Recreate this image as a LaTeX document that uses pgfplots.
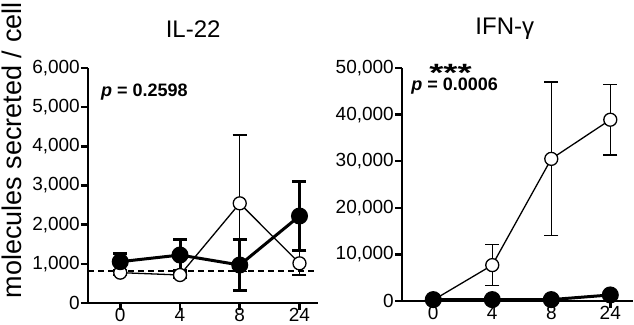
\documentclass[border=0pt]{standalone}
\usepackage{pgfplots}
\pgfplotsset{compat=1.18}
\usepackage{fontspec}
\setmainfont{Liberation Sans}
\pgfplotsset{
  gp/.style={
    scale only axis,
    anchor=south west,
    axis x line*=bottom, axis y line*=left,
    axis line style={line width=2.5bp, -},
    major tick style={line width=2.5bp, black},
    major tick length=7bp,
    tick align=outside,
    xtick={0,1,2,3}, xticklabels={0,4,8,24},
    tick label style={font=\fontsize{19bp}{22bp}\selectfont},
    yticklabel style={inner sep=1bp},
    xticklabel style={inner sep=0bp, yshift=2bp},
    /pgf/number format/assume math mode=true,
    /pgf/number format/1000 sep={,},
    scaled y ticks=false,
    clip=false,
    title style={font=\fontsize{24bp}{28bp}\selectfont, anchor=base},
  },
  openser/.style={black, line width=1.3bp, mark=*, mark size=6.5bp,
    mark options={fill=white, line width=1.3bp},
    error bars/.cd, y dir=both, y explicit,
    error bar style={line width=1.3bp},
    error mark options={rotate=90, mark size=7bp, line width=1.3bp}},
  fillser/.style={black, line width=3bp, mark=*, mark size=7bp,
    mark options={fill=black},
    error bars/.cd, y dir=both, y explicit,
    error bar style={line width=3bp},
    error mark options={rotate=90, mark size=7bp, line width=3bp}},
}
\begin{document}
\begin{tikzpicture}
\path[use as bounding box] (0,0) rectangle (634bp,325bp);
\begin{axis}[gp,
  at={(88bp,22bp)}, width=230bp, height=235bp,
  xmin=-0.54, xmax=3.31, ymin=0, ymax=6000,
  ytick={0,1000,...,6000},
  title={IL-22}, title style={at={(axis description cs:0.457,1.106)}},
  ylabel={molecules secreted / cell},
  ylabel style={font=\fontsize{27bp}{30bp}\selectfont, at={(axis description cs:-0.33,0.65)}, anchor=center},
]
\addplot[black, dashed, line width=1.5bp, dash pattern=on 6bp off 4bp, forget plot] coordinates {(-0.54,820) (3.31,820)};
\addplot[openser] coordinates {(0,775) +- (0,60) (1,715) +- (0,80) (2,2545) +- (0,1745) (3,1013) +- (0,300)};
\addplot[fillser] coordinates {(0,1055) +- (0,213) (1,1225) +- (0,400) (2,970) +- (0,656) (3,2221) +- (0,876)};
\node[anchor=base west, font=\fontsize{18bp}{22bp}\selectfont\bfseries] at (axis description cs:0.042,0.877) {\textit{p} = 0.2598};
\end{axis}
\begin{axis}[gp,
  at={(402bp,24bp)}, width=231bp, height=233bp,
  xmin=-0.53, xmax=3.385, ymin=0, ymax=50000,
  ytick={0,10000,...,50000},
  title={IFN-γ}, title style={at={(axis description cs:0.445,1.117)}},
]
\addplot[openser] coordinates {(0,200) +- (0,0) (1,7700) +- (0,4400) (2,30500) +- (0,16500) (3,38900) +- (0,7600)};
\addplot[fillser] coordinates {(0,300) +- (0,0) (1,300) +- (0,0) (2,300) +- (0,0) (3,1300) +- (0,0)};
\node[anchor=base west, font=\fontsize{18bp}{22bp}\selectfont\bfseries] at (axis description cs:0.025,0.903) {\textit{p} = 0.0006};
\node[anchor=base, inner sep=0pt, font=\fontsize{25bp}{25bp}\selectfont\bfseries] at (axis description cs:0.21,0.94) {\scalebox{1.45}[1]{***}};
\end{axis}
\end{tikzpicture}
\end{document}
